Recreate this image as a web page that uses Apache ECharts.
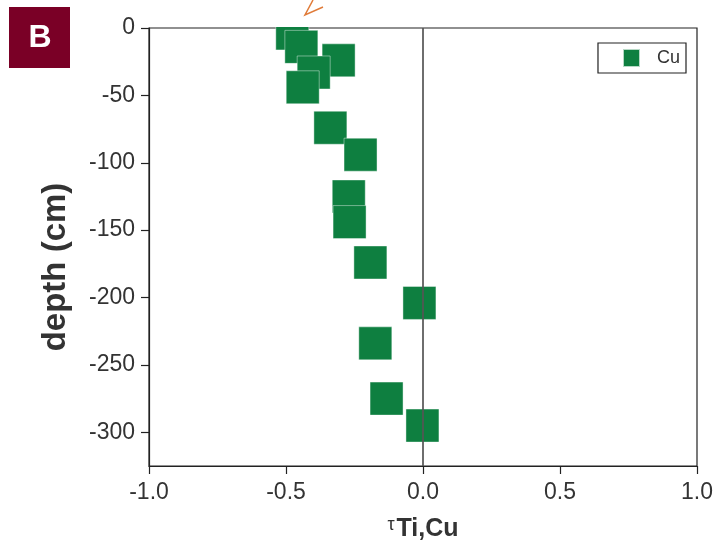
<!DOCTYPE html>
<html>
<head>
<meta charset="utf-8">
<script src="https://cdn.jsdelivr.net/npm/echarts@6/dist/echarts.min.js"></script>
<style>
  html, body { margin: 0; padding: 0; background: #fff; }
  #chart { width: 720px; height: 547px; }
</style>
</head>
<body>
<div id="chart"></div>
<script>
    // tau Ti,Cu vs depth
    var tauCu = [-0.477, -0.444, -0.308, -0.399, -0.439, -0.338, -0.228, -0.271, -0.268, -0.192, -0.013, -0.174, -0.133, -0.002];
    var depth = [-4, -14, -24, -33, -44, -74, -94, -125, -144, -174, -204, -234, -275, -295];
    var depthTicks = [0, -50, -100, -150, -200, -250, -300];
    var tauTicks = [-1.0, -0.5, 0.0, 0.5, 1.0];

    var points = [];
    for (var i = 0; i < depth.length; i++) {
        points.push([tauCu[i], depth[i]]);
    }

    var font = '"Liberation Sans", Arial, sans-serif';
    var myChart = echarts.init(document.getElementById('chart'));
    var option = {
        animation: false,
        textStyle: { fontFamily: font },
        grid: {
            left: 149,
            right: 23,
            top: 28,
            bottom: 81,
            show: true,
            borderColor: '#222',
            borderWidth: 1.2
        },
        legend: {
            right: 34,
            top: 43,
            orient: 'vertical',
            borderColor: '#222',
            borderWidth: 1.2,
            padding: [5, 6, 5, 24],
            itemWidth: 17,
            itemHeight: 18,
            textStyle: {
                fontSize: 18,
                color: '#333',
                fontFamily: font,
                padding: [0, 0, 0, 12]
            },
            data: [{ name: 'Cu', icon: 'rect' }]
        },
        xAxis: {
            type: 'value',
            min: -1,
            max: 1,
            interval: 0.5,
            splitLine: { show: false },
            axisLine: { onZero: false, lineStyle: { color: '#222', width: 1.2 } },
            axisTick: { inside: false, length: 8, lineStyle: { color: '#222', width: 1.2 } },
            axisLabel: {
                margin: 15,
                fontSize: 23,
                color: '#333',
                fontFamily: font,
                formatter: function (v) { return v.toFixed(1); }
            },
            name: '{t|τ}{s|Ti,Cu}',
            nameLocation: 'middle',
            nameGap: 50,
            nameTextStyle: {
                rich: {
                    t: { fontSize: 18, color: '#333', fontFamily: font, padding: [0, 2, 9, 0] },
                    s: { fontSize: 25, fontWeight: 'bold', color: '#333', fontFamily: font }
                }
            }
        },
        yAxis: {
            type: 'value',
            min: -325,
            max: 0,
            splitLine: { show: false },
            axisLine: { onZero: false, lineStyle: { color: '#222', width: 1.2 } },
            axisTick: {
                inside: false,
                length: 8,
                customValues: depthTicks,
                lineStyle: { color: '#222', width: 1.2 }
            },
            axisLabel: {
                margin: 14,
                fontSize: 23,
                color: '#333',
                fontFamily: font,
                customValues: depthTicks
            },
            name: 'depth (cm)',
            nameLocation: 'middle',
            nameGap: 77,
            nameTextStyle: {
                fontSize: 33,
                fontWeight: 'bold',
                color: '#333',
                fontFamily: font,
                padding: [0, 40, 0, 0]
            }
        },
        series: [
            {
                name: 'Cu',
                type: 'scatter',
                symbol: 'rect',
                symbolSize: 33,
                itemStyle: {
                    color: '#0e7f40',
                    opacity: 1,
                    borderColor: 'rgba(255,255,255,0.7)',
                    borderWidth: 0.6
                },
                data: points,
                z: 2
            },
            {
                name: 'zero',
                type: 'scatter',
                data: [],
                z: 5,
                markLine: {
                    silent: true,
                    symbol: 'none',
                    label: { show: false },
                    lineStyle: { color: '#555', width: 2, type: 'solid', opacity: 0.85 },
                    data: [{ xAxis: tauTicks[2] }]
                }
            }
        ],
        graphic: [
            {
                type: 'rect',
                z: 100,
                shape: { x: 150, y: 0, width: 560, height: 27 },
                style: { fill: '#fff' }
            },
            {
                type: 'polyline',
                z: 101,
                shape: { points: [[313, 0], [305, 15], [323, 7]] },
                style: { stroke: '#e07b39', lineWidth: 1.5, fill: null }
            },
            {
                type: 'rect',
                z: 101,
                shape: { x: 9, y: 7, width: 61, height: 61 },
                style: { fill: '#7a0026' }
            },
            {
                type: 'text',
                z: 102,
                x: 40,
                y: 38,
                style: {
                    text: 'B',
                    fill: '#fff',
                    font: 'bold 32px ' + font,
                    align: 'center',
                    verticalAlign: 'middle'
                }
            }
        ]
    };
    myChart.setOption(option);
</script>
</body>
</html>
